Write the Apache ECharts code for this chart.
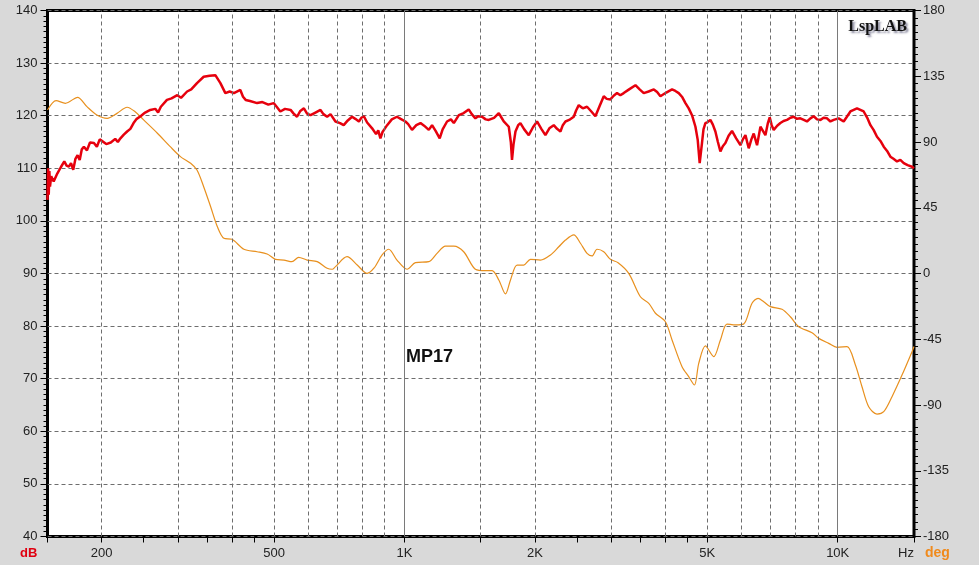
<!DOCTYPE html>
<html><head><meta charset="utf-8">
<script src="https://cdn.jsdelivr.net/npm/echarts@6/dist/echarts.min.js"></script>
<style>html,body{margin:0;padding:0;background:#d9d9d9;} #c{width:979px;height:565px;}</style>
</head><body><div id="c"></div>
<script>
// ---- data ----
const freqTicks = [150,200,250,300,350,400,450,500,1000,1500,2000,2500,3000,3500,4000,4500,5000,10000,15000];
const freqLabels = [200,500,1000,2000,5000,10000];
const gridDashed = [200,300,400,500,600,700,800,900,1500,2000,3000,4000,5000,6000,7000,8000,9000];
const gridSolid = [1000,10000];

const redFreq = [
  150,150.5,151,151.5,152,153,155,158,161,164,
  166,168,170,172,174,176,178,180,182,185,
  188,192,195,198,200,205,210,215,218,221,
  225,229,233,237,241,246,252,259,266,270,
  274,283,290,299,305,315,322,332,344,355,
  366,376,386,395,404,418,424,430,440,457,
  470,485,499,507,517,530,546,555,565,575,
  586,596,607,620,640,650,663,675,693,710,
  724,740,757,770,785,795,806,820,842,860,
  870,880,890,900,912,935,961,980,1005,1020,
  1041,1065,1089,1110,1138,1158,1180,1206,1225,1254,
  1280,1300,1335,1370,1407,1430,1458,1480,1510,1540,
  1565,1610,1651,1670,1695,1741,1760,1771,1785,1804,
  1830,1852,1890,1936,1980,2023,2070,2115,2160,2211,
  2250,2291,2320,2353,2400,2459,2490,2525,2580,2639,
  2700,2759,2820,2884,2930,2988,3040,3095,3150,3207,
  3300,3413,3490,3567,3660,3763,3830,3897,4020,4146,
  4220,4296,4380,4452,4530,4610,4695,4752,4802,4861,
  4900,4950,5010,5083,5150,5220,5290,5361,5430,5505,
  5600,5702,5830,5963,6040,6124,6232,6320,6400,6514,
  6632,6720,6809,6900,6967,7040,7117,7250,7373,7500,
  7638,7780,7914,8050,8200,8350,8493,8650,8803,8960,
  9123,9280,9447,9620,9790,10050,10323,10500,10698,11079,
  11482,11700,11900,12100,12323,12550,12771,13000,13231,13450,
  13704,13950,14202,14500,14843,15000];
const redDb = [
  104,110,105,109.5,106.5,108.5,107.5,109,110.2,111.3,
  110.5,110.3,111,109.7,111.8,112.5,111.6,113.6,114.1,113.4,
  114.9,114.8,114.1,115.5,115.4,114.6,114.9,115.6,115,115.7,
  116.4,117,117.5,118.6,119.4,119.9,120.6,121.1,121.3,120.6,
  121.7,123,123.3,123.9,123.4,124.6,125,126.2,127.4,127.6,
  127.7,126.2,124.3,124.6,124.3,124.9,123.6,123,122.8,122.4,
  122.6,122.1,122.4,121.7,120.8,121.3,121.1,120.4,119.8,120.9,
  121.4,120.4,120.1,120.5,121.1,120.3,119.8,120.3,118.9,118.6,
  118.2,119.1,119.8,119.4,118.9,119.6,119.9,118.7,117.6,116.5,
  117.2,115.7,116.9,117.5,118.2,119.3,119.8,119.4,118.9,118.4,
  117.3,118.2,118.6,118.1,117.3,118.2,117.1,115.7,117.4,118.9,
  119.3,118.6,120.1,120.5,121.2,120.3,119.5,119.9,119.8,119.3,
  119.2,119.6,120.5,119.8,118.9,117.9,115,111.6,114.5,117,
  118.2,118.6,117.4,116.3,117.8,118.9,117.5,116.3,117.6,118.2,
  117.5,117,118.2,118.9,119.2,119.8,121,122,121.4,121.7,
  120.8,119.9,121.8,123.7,123.2,123.1,123.8,124.3,123.9,124.3,
  125,125.8,125,124.3,124.6,125,124.5,123.7,124.4,125,
  124.7,124.3,123.5,122.4,121.4,120.1,117.9,115.4,111,114.8,
  117.4,118.6,118.8,119.2,118.3,117,115,113.2,114.2,114.8,
  116.2,117.1,115.7,114.4,115.5,116.3,113.8,115.5,116.6,114.4,
  117.9,117.1,116.3,118.6,119.7,118.2,117.3,118.1,118.6,119,
  119.2,119.6,119.8,119.4,119.5,119.2,118.9,119.5,119.9,119.3,
  119.2,119.6,119.5,118.9,119.2,119.5,118.9,119.8,120.8,121.4,
  120.8,119.6,118.2,117.3,116,115.2,114.1,113.3,112.2,111.8,
  111.3,111.6,111,110.6,110.3,110];

const phaseFreq = [150,157,165,176,185,195,206,217,229,239,250,269,288,304,321,332,344,357,370,383,400,426,457,482,504,527,550,570,596,629,663,681,693,737,778,820,850,888,920,961,1014,1060,1138,1189,1243,1300,1370,1458,1538,1593,1651,1711,1757,1819,1885,1954,2060,2173,2271,2353,2459,2548,2639,2710,2783,2884,2988,3112,3294,3504,3664,3796,4002,4146,4372,4530,4670,4778,4950,5174,5361,5552,5806,6068,6342,6548,6749,6994,7438,7775,8128,8724,9040,9533,9963,10507,10986,11378,11791,12323,12771,13345,14074,14843,15000];
const phaseDeg = [111.9,118.3,116.5,120.6,114.2,108.5,106.2,109.6,113.8,110.7,105.1,96,86.8,80,75.4,70.8,59.4,45.7,32,24.1,23.4,16.6,14.9,13.3,9.7,9.2,8.1,11.1,9.2,8.1,3.6,2.9,4.7,11.5,5.8,0.1,3.6,12.7,16.6,9.2,2.9,7.4,8.1,13.8,18.8,18.8,14.9,2.9,1.9,1.9,-4.4,-14,-4.4,5.8,5.8,9.7,9.2,12.7,18.3,22.9,26.4,20.7,13.8,12,16.6,14.9,9.7,7.4,0.1,-15.9,-20.4,-27.2,-33,-45.5,-63.8,-70.6,-76.3,-61.5,-49.6,-56.9,-45.5,-34.6,-35.2,-34.6,-20.4,-17,-19.3,-22.7,-24.5,-29.6,-36.4,-40.5,-44.4,-47.8,-50.5,-50.1,-62.6,-77.5,-91.2,-96.2,-94.6,-84.3,-69.5,-53.5,-50];

// ---- chart ----
const chart = echarts.init(document.getElementById('c'));
const fmtHz = v => v >= 1000 ? (v / 1000) + 'K' : String(v);
const FONT = 'Liberation Sans';
const gridLines = gridDashed.map(f => ({ xAxis: f, lineStyle: { type: [4, 3], color: '#6e6e6e', width: 1 } }))
  .concat(gridSolid.map(f => ({ xAxis: f, lineStyle: { type: 'solid', color: '#7a7a7a', width: 1 } })));

chart.setOption({
  animation: false,
  backgroundColor: '#d9d9d9',
  grid: { left: 47.5, right: 65, top: 10.5, bottom: 28.5, show: true, backgroundColor: '#fff', borderColor: '#000', borderWidth: 3 },
  xAxis: {
    type: 'log', logBase: 10, min: 150, max: 15000, position: 'bottom',
    axisLine: { show: false, onZero: false },
    axisTick: { show: true, customValues: freqTicks, length: 6, lineStyle: { color: '#000', width: 1 } },
    axisLabel: { customValues: freqLabels, formatter: fmtHz, margin: 10, color: '#222', fontSize: 13, fontFamily: FONT },
    splitLine: { show: false }, minorTick: { show: false }, minorSplitLine: { show: false }
  },
  yAxis: [
    {
      type: 'value', min: 40, max: 140, interval: 10, position: 'left',
      axisLine: { show: false },
      axisTick: { show: true, length: 7, lineStyle: { color: '#000' } },
      minorTick: { show: true, splitNumber: 10, length: 4, lineStyle: { color: '#000' } },
      axisLabel: { margin: 10, color: '#222', fontSize: 13, fontFamily: FONT },
      splitLine: { show: true, lineStyle: { color: '#6e6e6e', type: [4, 3], width: 1 } }
    },
    {
      type: 'value', min: -180, max: 180, interval: 45, position: 'right',
      axisLine: { show: false },
      axisTick: { show: true, length: 7, lineStyle: { color: '#000' } },
      minorTick: { show: true, splitNumber: 9, length: 4, lineStyle: { color: '#000' } },
      axisLabel: { margin: 9, color: '#222', fontSize: 13, fontFamily: FONT },
      splitLine: { show: false }
    }
  ],
  series: [
    {
      type: 'line', data: [[1000, 90]], symbol: 'none', lineStyle: { opacity: 0 }, z: 1, silent: true,
      markLine: { silent: true, symbol: ['none', 'none'], label: { show: false }, animation: false, data: gridLines }
    },
    {
      name: 'phase', type: 'line', yAxisIndex: 1, z: 3, symbol: 'none', smooth: 0.3,
      data: phaseFreq.map((f, i) => [f, phaseDeg[i]]),
      lineStyle: { color: '#e8901e', width: 1.2 }
    },
    {
      name: 'SPL', type: 'line', yAxisIndex: 0, z: 4, symbol: 'none',
      data: redFreq.map((f, i) => [f, redDb[i]]),
      lineStyle: { color: '#e6000d', width: 2.5 }
    }
  ],
  graphic: [
    { type: 'text', z: 10, style: { x: 20, y: 553, text: 'dB', fill: '#e00010', font: 'bold 13px ' + FONT, textVerticalAlign: 'middle' } },
    { type: 'text', z: 10, style: { x: 925, y: 553, text: 'deg', fill: '#f08a1c', font: 'bold 14px ' + FONT, textVerticalAlign: 'middle' } },
    { type: 'text', z: 10, style: { x: 898, y: 553, text: 'Hz', fill: '#222', font: '13px ' + FONT, textVerticalAlign: 'middle' } },
    { type: 'text', z: 10, style: { x: 406, y: 357, text: 'MP17', fill: '#111', font: 'bold 18px ' + FONT, textVerticalAlign: 'middle' } },
    { type: 'text', z: 10, style: { x: 907, y: 27, text: 'LspLAB', fill: '#111', font: 'bold 16px "Liberation Serif"', textAlign: 'right', textVerticalAlign: 'middle', textShadowColor: 'rgba(90,90,120,0.7)', textShadowBlur: 2, textShadowOffsetX: 2, textShadowOffsetY: 2 } }
  ]
});
</script>
</body></html>
